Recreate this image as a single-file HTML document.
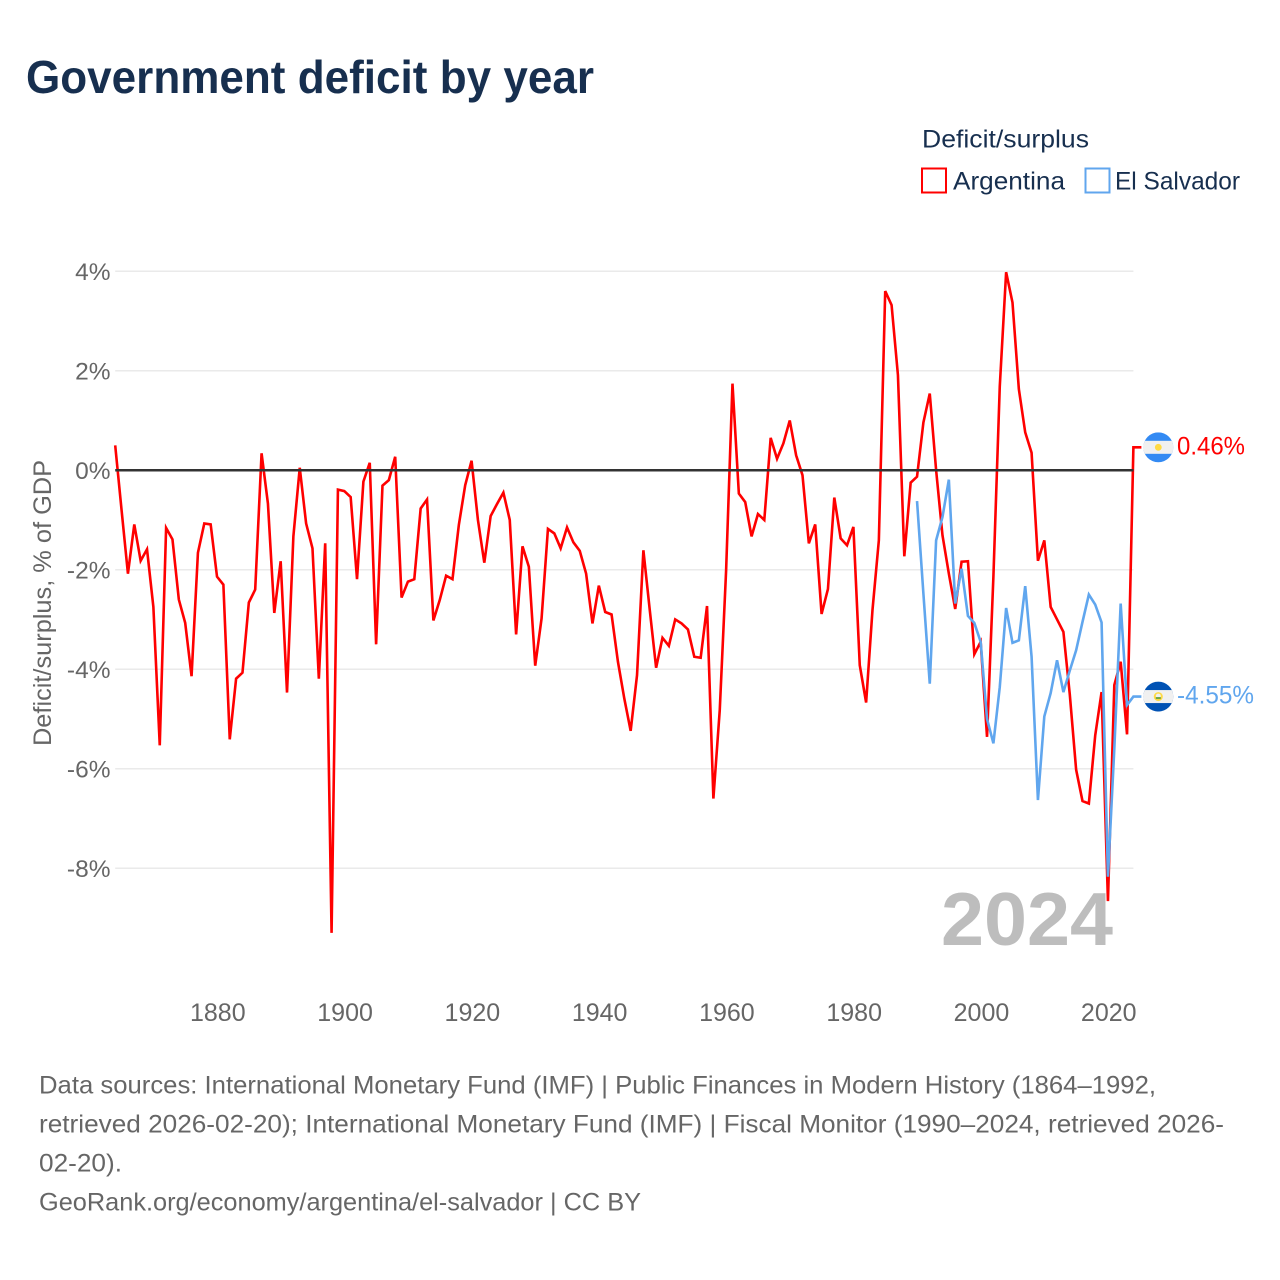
<!DOCTYPE html>
<html lang="en">
<head>
<meta charset="utf-8">
<title>Government deficit by year</title>
<style>
html,body{margin:0;padding:0;background:#fff;}
svg{display:block;font-family:"Liberation Sans",sans-serif;}
</style>
</head>
<body>
<svg id="chart" xmlns="http://www.w3.org/2000/svg" width="1280" height="1280" viewBox="0 0 1280 1280">
  <rect width="1280" height="1280" fill="#fff"/>
  <text x="26" y="93" font-size="46" font-weight="700" fill="#172f4f" textLength="568" lengthAdjust="spacingAndGlyphs">Government deficit by year</text>

  <text x="922" y="147.500" font-size="25" fill="#172f4f" textLength="167" lengthAdjust="spacingAndGlyphs">Deficit/surplus</text>
  <g>
    <rect x="922" y="168.500" width="24" height="24" fill="#fff" stroke="#ff0000" stroke-width="2"/>
    <text x="953" y="189.500" font-size="25" fill="#172f4f" textLength="112" lengthAdjust="spacingAndGlyphs">Argentina</text>
  </g>
  <g>
    <rect x="1085.500" y="168.500" width="24" height="24" fill="#fff" stroke="#60a6ee" stroke-width="2"/>
    <text x="1115" y="189.500" font-size="25" fill="#172f4f" textLength="125" lengthAdjust="spacingAndGlyphs">El Salvador</text>
  </g>

  <text transform="translate(51,603) rotate(-90)" text-anchor="middle" font-size="25" fill="#666" textLength="286" lengthAdjust="spacingAndGlyphs">Deficit/surplus, % of GDP</text>

  <g id="grid"></g>
  <g id="yticks"></g>
  <g id="xticks"></g>

  <text x="941" y="945" font-size="75" font-weight="700" fill="#bdbdbd" textLength="172" lengthAdjust="spacingAndGlyphs">2024</text>

  <g id="series"></g>
  <line id="zero" stroke="#333" stroke-width="2.500"/>
  <g id="ends"></g>

  <g font-size="25" fill="#666">
    <text x="39" y="1093.500" textLength="1117" lengthAdjust="spacingAndGlyphs">Data sources: International Monetary Fund (IMF) | Public Finances in Modern History (1864–1992,</text>
    <text x="39" y="1132.500" textLength="1185" lengthAdjust="spacingAndGlyphs">retrieved 2026-02-20); International Monetary Fund (IMF) | Fiscal Monitor (1990–2024, retrieved 2026-</text>
    <text x="39" y="1171.500" textLength="83" lengthAdjust="spacingAndGlyphs">02-20).</text>
    <text x="39" y="1210.500" textLength="602" lengthAdjust="spacingAndGlyphs">GeoRank.org/economy/argentina/el-salvador | CC BY</text>
  </g>
</svg>
<script>
const argentinaStartYear = 1864;
const argentinaValues = [
  0.50,-0.80,-2.08,-1.09,-1.82,-1.59,-2.75,-5.53,-1.16,-1.39,-2.60,-3.07,-4.14,-1.66,-1.07,-1.09,
  -2.14,-2.30,-5.41,-4.19,-4.07,-2.66,-2.40,0.34,-0.67,-2.87,-1.83,-4.47,-1.33,0.05,-1.07,-1.57,
  -4.19,-1.47,-9.30,-0.39,-0.42,-0.54,-2.19,-0.23,0.15,-3.50,-0.31,-0.20,0.27,-2.56,-2.24,-2.19,
  -0.77,-0.59,-3.02,-2.61,-2.12,-2.19,-1.10,-0.30,0.19,-1.00,-1.86,-0.92,-0.68,-0.45,-1.00,-3.30,
  -1.53,-1.94,-3.93,-2.98,-1.18,-1.27,-1.57,-1.15,-1.45,-1.62,-2.08,-3.08,-2.32,-2.85,-2.90,-3.85,
  -4.59,-5.24,-4.12,-1.61,-2.81,-3.97,-3.37,-3.53,-3.00,-3.08,-3.20,-3.75,-3.77,-2.73,-6.60,-4.82,
  -2.01,1.74,-0.47,-0.64,-1.33,-0.88,-1.00,0.65,0.23,0.54,1.00,0.30,-0.10,-1.47,-1.09,-2.89,
  -2.39,-0.55,-1.37,-1.51,-1.14,-3.92,-4.67,-2.81,-1.41,3.60,3.32,1.91,-1.73,-0.25,-0.13,0.96,
  1.54,0.00,-1.31,-2.08,-2.79,-1.84,-1.83,-3.70,-3.45,-5.36,-2.14,1.68,3.98,3.37,1.63,0.76,
  0.35,-1.82,-1.41,-2.75,-3.00,-3.25,-4.50,-6.02,-6.65,-6.70,-5.33,-4.46,-8.66,-4.32,-3.85,-5.31,0.46
];
const salvadorStartYear = 1990;
const salvadorValues = [
  -0.62,-2.48,-4.29,-1.41,-0.94,-0.19,-2.68,-1.98,-2.93,-3.07,-3.45,-5.00,-5.49,-4.36,-2.77,-3.47,
  -3.42,-2.33,-3.75,-6.63,-4.95,-4.48,-3.82,-4.46,-4.03,-3.62,-3.05,-2.50,-2.70,-3.06,-8.17,-5.60,
  -2.68,-4.72,-4.55
];
const xTickYears = [1880,1900,1920,1940,1960,1980,2000,2020];
const yTickValues = [4,2,0,-2,-4,-6,-8];

const NS = 'http://www.w3.org/2000/svg';
const plotLeft = 115.2, plotRight = 1133.4;
const xScale = year => plotLeft + (year - 1864) * (plotRight - plotLeft) / 160;
const yScale = value => 470.2 - value * 49.75;

function make(tag, attrs, parent, text) {
  const el = document.createElementNS(NS, tag);
  for (const k in attrs) el.setAttribute(k, attrs[k]);
  if (text !== undefined) el.textContent = text;
  parent.appendChild(el);
  return el;
}

const grid = document.getElementById('grid');
const yticks = document.getElementById('yticks');
yTickValues.forEach(v => {
  if (v !== 0) {
    const g = make('line', {x1: plotLeft, x2: plotRight, y1: yScale(v), y2: yScale(v), stroke: '#eaeaea', 'stroke-width': 1.5}, grid);
    
    
  }
  const t = make('text', {x: 110.5, y: yScale(v) + 9, 'text-anchor': 'end', 'font-size': 24.5, fill: '#666'}, yticks, v + '%');
  
  
});

const xticks = document.getElementById('xticks');
xTickYears.forEach(y => {
  const t = make('text', {x: xScale(y) + 0.8, y: 1021, 'text-anchor': 'middle', 'font-size': 25, fill: '#666'}, xticks, y);
  
  
});

const zero = document.getElementById('zero');
zero.setAttribute('x1', plotLeft);
zero.setAttribute('x2', plotRight);
zero.setAttribute('y1', yScale(0));
zero.setAttribute('y2', yScale(0));

function linePath(startYear, values) {
  let d = values.map((v, i) => (i ? 'L' : 'M') + xScale(startYear + i).toFixed(2) + ' ' + yScale(v).toFixed(2)).join(' ');
  d += ' L' + (plotRight + 8) + ' ' + yScale(values[values.length - 1]).toFixed(2);
  return d;
}

const seriesGroup = document.getElementById('series');
const argLine = make('path', {d: linePath(argentinaStartYear, argentinaValues), fill: 'none', stroke: '#ff0000', 'stroke-width': 2.6, 'stroke-linejoin': 'miter'}, seriesGroup);


const salLine = make('path', {d: linePath(salvadorStartYear, salvadorValues), fill: 'none', stroke: '#60a6ee', 'stroke-width': 2.6, 'stroke-linejoin': 'miter'}, seriesGroup);



const ends = document.getElementById('ends');
const flagX = 1158.3, flagR = 15;

function drawFlag(cy, outer, inner, clipId) {
  const g = make('g', {}, ends);
  const defs = make('clipPath', {id: clipId}, g);
  make('circle', {cx: flagX, cy: cy, r: flagR}, defs);
  const body = make('g', {'clip-path': 'url(#' + clipId + ')'}, g);
  make('rect', {x: flagX - flagR, y: cy - flagR, width: 30, height: 30, fill: outer}, body);
  make('rect', {x: flagX - flagR, y: cy - 6.500, width: 30, height: 13, fill: '#f0f0f0'}, body);
  inner(cy, g);
  return g;
}

const argEnd = argentinaValues[argentinaValues.length - 1];
const argFlag = drawFlag(yScale(argEnd), '#338af3', (cy, g) => {
  make('circle', {cx: flagX, cy: cy, r: 3.400, fill: '#ffda44'}, g);
}, 'clip-ar');


const argLabel = make('text', {x: 1177, y: yScale(argEnd) + 7, 'font-size': 25, fill: '#ff0000', textLength: 68, lengthAdjust: 'spacingAndGlyphs'}, ends, argEnd.toFixed(2) + '%');



const salEnd = salvadorValues[salvadorValues.length - 1];
const salFlag = drawFlag(yScale(salEnd), '#0052b4', (cy, g) => {
  make('circle', {cx: flagX, cy: cy, r: 4.500, fill: '#ffda44'}, g);
  make('circle', {cx: flagX, cy: cy - 0.500, r: 2.500, fill: '#f0f0f0'}, g);
  make('rect', {x: flagX - 2.500, y: cy + 0.500, width: 5, height: 2, fill: '#6da544'}, g);
}, 'clip-sv');


const salLabel = make('text', {x: 1177, y: yScale(salEnd) + 7, 'font-size': 25, fill: '#60a6ee', textLength: 77, lengthAdjust: 'spacingAndGlyphs'}, ends, salEnd.toFixed(2) + '%');


</script>
</body>
</html>
